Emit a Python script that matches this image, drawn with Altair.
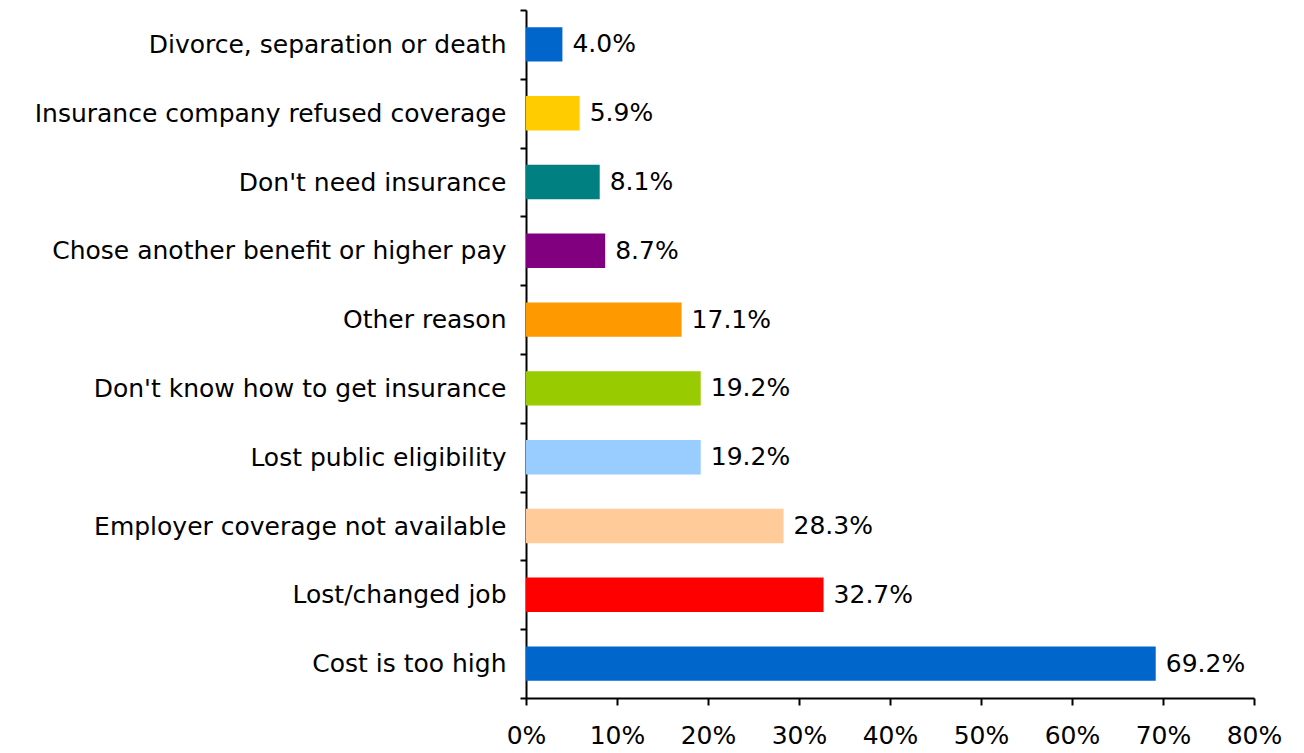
import altair as alt
import pandas as pd

reasons = [
    "Divorce, separation or death",
    "Insurance company refused coverage",
    "Don't need insurance",
    "Chose another benefit or higher pay",
    "Other reason",
    "Don't know how to get insurance",
    "Lost public eligibility",
    "Employer coverage not available",
    "Lost/changed job",
    "Cost is too high",
]
values = [0.040, 0.059, 0.081, 0.087, 0.171, 0.192, 0.192, 0.283, 0.327, 0.692]
colors = ["#0066CC", "#FFCC00", "#008080", "#800080", "#FF9900",
          "#99CC00", "#99CCFF", "#FFCC99", "#FF0000", "#0066CC"]
tick_values = [0, 0.1, 0.2, 0.3, 0.4, 0.5, 0.6, 0.7, 0.8]

df = pd.DataFrame({"reason": reasons, "value": values, "color": colors})
df["label"] = [f"{v*100:.1f}%" for v in values]

FONT = "DejaVu Sans"
FS = 25

base = alt.Chart(df).encode(
    y=alt.Y("reason:N", sort=reasons, title=None,
            scale=alt.Scale(paddingInner=0, paddingOuter=0),
            axis=alt.Axis(labelFont=FONT, labelFontSize=FS, labelColor="#000000",
                          labelPadding=14, tickSize=6, tickColor="#000000",
                          domainColor="#000000", domainWidth=2, tickWidth=2,
                          tickBand="extent", labelLimit=600, grid=False)),
)

bars = base.mark_bar(height={"band": 0.5}).encode(
    x=alt.X("value:Q", title=None,
            scale=alt.Scale(domain=[0, 0.8], nice=False),
            axis=alt.Axis(format=".0%", values=tick_values,
                          labelFont=FONT, labelFontSize=FS, labelColor="#000000",
                          tickSize=7, tickColor="#000000", tickWidth=2,
                          domainColor="#000000", domainWidth=2, labelPadding=18,
                          grid=False, labelFlush=False)),
    color=alt.Color("color:N", scale=None),
)

text = base.mark_text(align="left", baseline="middle", dx=10, font=FONT,
                      fontSize=FS, color="#000000").encode(
    x=alt.X("value:Q"),
    text="label:N",
)

chart = (bars + text).properties(
    width=728, height=688,
    autosize=alt.AutoSizeParams(type="none"),
    padding={"left": 526, "top": 10, "right": 50, "bottom": 55},
).configure(background="#ffffff", view=alt.ViewConfig(strokeWidth=0, stroke="transparent"))

chart.save("out.html", embed_options={"renderer": "svg", "actions": False})
